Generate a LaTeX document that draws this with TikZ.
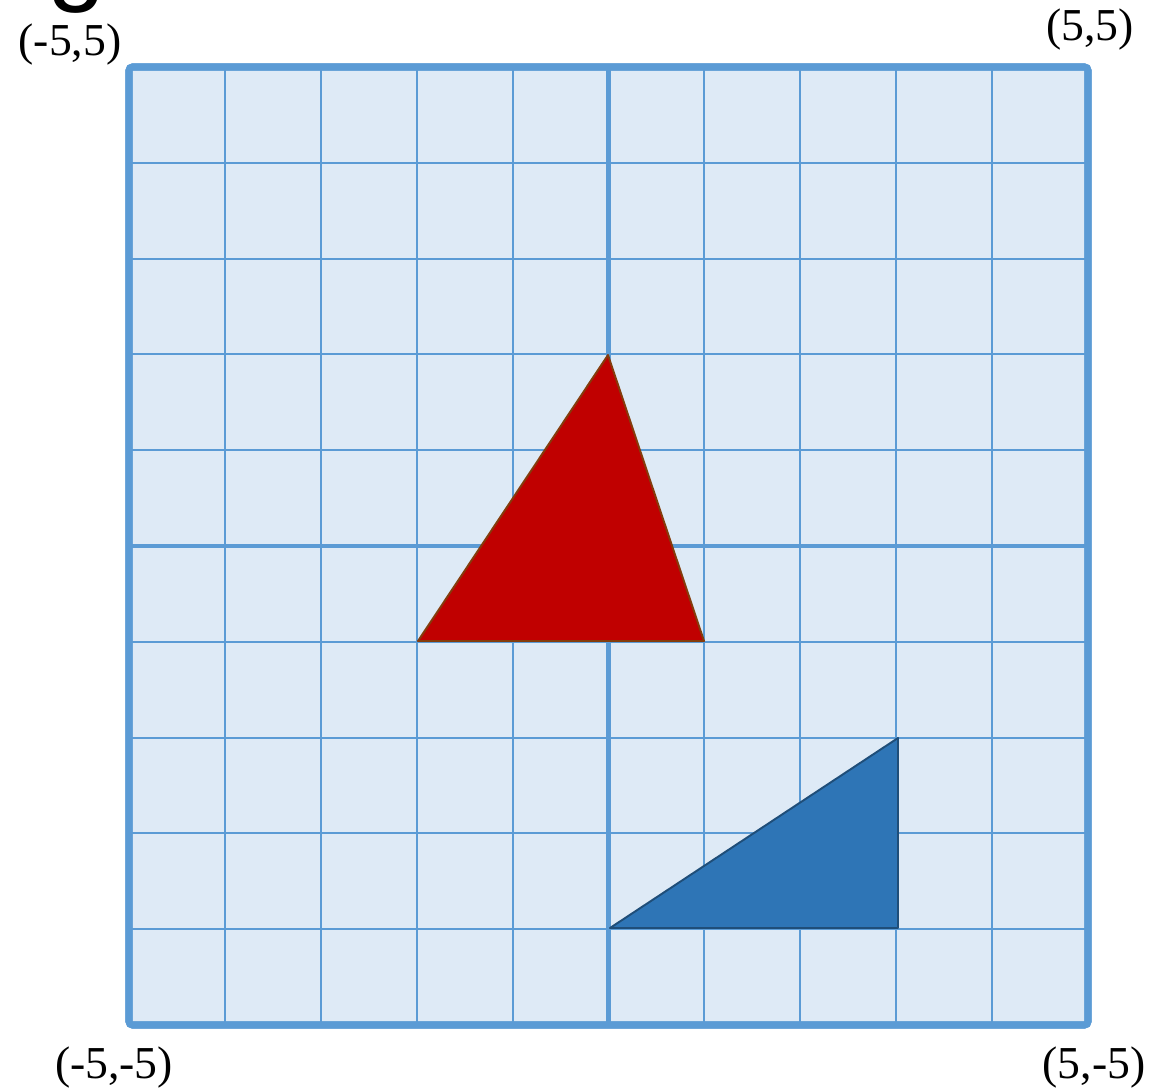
\documentclass[tikz,border=0pt]{standalone}
\usepackage{fontspec}
\setmainfont{Liberation Serif}
\newfontfamily\gfont{Liberation Sans}
\definecolor{gridblue}{HTML}{5B9BD5}
\definecolor{gridfill}{HTML}{DEEAF6}
\definecolor{redfill}{HTML}{C00000}
\definecolor{redline}{HTML}{843C0C}
\definecolor{bluefill}{HTML}{2E75B6}
\definecolor{blueline}{HTML}{1F4E79}
\begin{document}
\begin{tikzpicture}[x=0.02cm,y=-0.02cm,
  lbl/.style={font=\fontsize{26}{30}\selectfont,inner sep=0pt},
  thin grid/.style={draw=gridblue,line width=1.1pt},
  axis line/.style={draw=gridblue,line width=2.8pt},
  frame/.style={draw=gridblue,line width=4pt,rounded corners=2pt,fill=gridfill}]
\useasboundingbox (0,0) rectangle (1171,1091);
% partial title letter
\node[anchor=base west,inner sep=0pt,font=\gfont\fontsize{60}{70}\selectfont] (title) at (47,-8) {g};
% frame
\path[frame] (129,67) rectangle (1088,1025);
\foreach \i in {1,2,3,4,6,7,8,9} {
  \draw[thin grid] ({129+95.9*\i},67) -- ({129+95.9*\i},1025);
  \draw[thin grid] (129,{67+95.8*\i}) -- (1088,{67+95.8*\i});
}
\draw[axis line] (608.5,67) -- (608.5,1025);
\draw[axis line] (129,546) -- (1088,546);
\draw[gridblue,line width=4pt,rounded corners=2pt] (129,67) rectangle (1088,1025);
% triangles
\coordinate (r1) at (608,355);
\coordinate (r2) at (418,641);
\coordinate (r3) at (704,641);
\filldraw[fill=redfill,draw=redline,line width=1.1pt,line join=round] (r1) -- (r2) -- (r3) -- cycle;
\coordinate (b1) at (610,928);
\coordinate (b2) at (898,738);
\coordinate (b3) at (898,928);
\filldraw[fill=bluefill,draw=blueline,line width=1.1pt,line join=round] (b1) -- (b2) -- (b3) -- cycle;
% labels
\node[lbl] (tl) at (70,45) {(-5,5)};
\node[lbl] (tr) at (1090,30) {(5,5)};
\node[lbl] (bl) at (114,1068) {(-5,-5)};
\node[lbl] (br) at (1094,1068) {(5,-5)};
\end{tikzpicture}
\end{document}
